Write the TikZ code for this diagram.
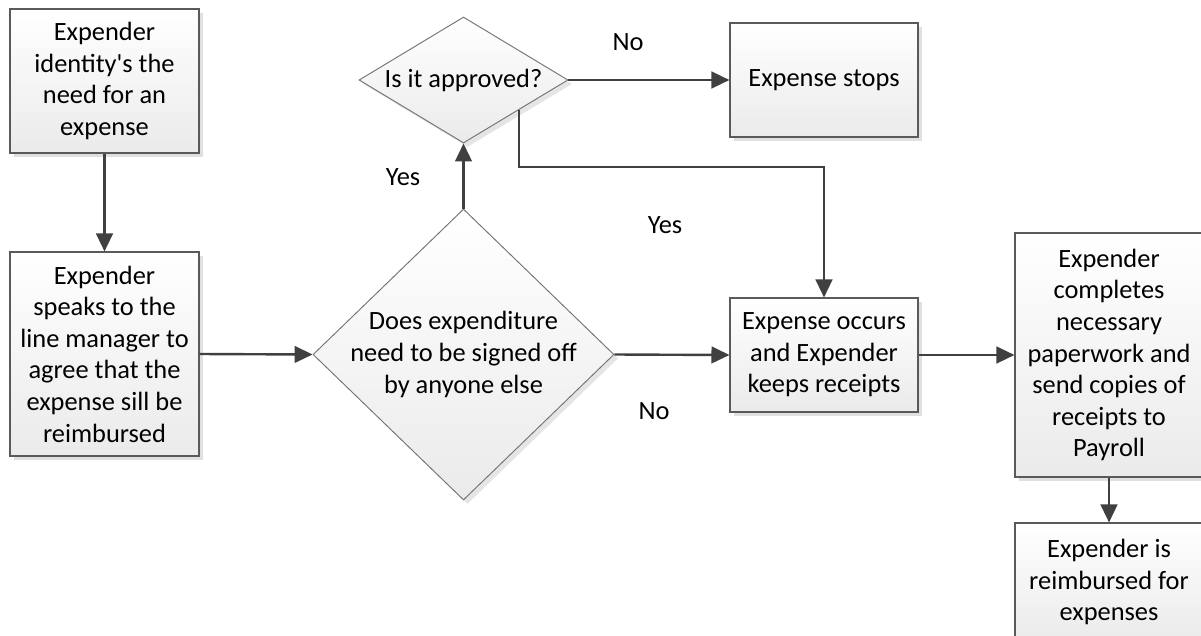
\documentclass[tikz,border=0pt]{standalone}
\usepackage{fontspec}
\setmainfont{Carlito}[Ligatures=TeXOff]
\usetikzlibrary{arrows.meta,shapes.geometric,shadows,calc}
\definecolor{linec}{HTML}{404040}
\definecolor{borderc}{HTML}{5A5A5A}
\tikzset{
  procbox/.style={rectangle, draw=borderc, line width=0.8pt, top color=white, bottom color=black!8,
    drop shadow={shadow xshift=3pt, shadow yshift=-3pt, fill=black!12, opacity=1},
    align=center, inner sep=0pt},
  decbox/.style={diamond, draw=borderc!85, line width=0.7pt, top color=white, bottom color=black!8,
    drop shadow={shadow xshift=3pt, shadow yshift=-3pt, fill=black!10, opacity=1},
    inner sep=0pt},
  txt/.style={align=center, inner sep=0pt},
  arr/.style={draw=linec, line width=1.8pt, -{Triangle[length=13.5pt,width=12.5pt]}},
  conn/.style={draw=linec, line width=1.8pt}
}
\begin{document}
\begin{tikzpicture}[x=0.75pt, y=-0.75pt, font=\fontsize{19.8pt}{23.7pt}\selectfont]
\useasboundingbox (0,0) rectangle (1201,635);
\clip (0,0) rectangle (1201,635);
% process boxes
\node[procbox, minimum width=141.75pt, minimum height=108pt] (b1) at (104.5,81)
  {Expender\\identity's the\\need for an\\expense};
\node[procbox, minimum width=141.75pt, minimum height=153pt] (b2) at (104.5,354)
  {Expender\\speaks to the\\line manager to\\agree that the\\expense sill be\\reimbursed};
\node[procbox, minimum width=141pt, minimum height=85.5pt] (stop) at (824,80)
  {Expense stops};
\node[procbox, minimum width=141pt, minimum height=85.5pt] (occ) at (824,355)
  {Expense occurs\\and Expender\\keeps receipts};
\node[procbox, minimum width=141pt, minimum height=183pt] (comp) at (1109,355)
  {Expender\\completes\\necessary\\paperwork and\\send copies of\\receipts to\\Payroll};
\node[procbox, minimum width=141pt, minimum height=88.5pt] (reimb) at (1109,582)
  {Expender is\\reimbursed for\\expenses};
% decisions
\node[decbox, minimum width=225.75pt, minimum height=218.25pt] (d1) at (463.5,354.5) {};
\node[txt] (d1t) at (d1) {Does expenditure\\need to be signed off\\by anyone else};
\node[decbox, minimum width=156.75pt, minimum height=94.5pt] (d2) at (463.5,80) {};
\node[txt] (d2t) at (d2) {Is it approved?};
% labels
\node[txt] (lno1) at (628,42) {No};
\node[txt] (lyes1) at (403,177) {Yes};
\node[txt] (lyes2) at (665,225) {Yes};
\node[txt] (lno2) at (654,411) {No};
% connectors
\coordinate (p) at ($(d2.south)!0.53!(d2.east)$);
\coordinate (ybend) at (0,167);
\draw[arr] (b1.south) -- (b2.north);
\draw[arr] (b2.east) -- (d1.west);
\draw[arr] (d1.north) -- (d2.south);
\draw[arr] (d2.east) -- (stop.west);
\draw[arr] (p) -- (p |- ybend) -| (occ.north);
\draw[arr] (d1.east) -- (occ.west);
\draw[arr] (occ.east) -- (comp.west);
\draw[arr] (comp.south) -- (reimb.north);
\end{tikzpicture}
\end{document}
